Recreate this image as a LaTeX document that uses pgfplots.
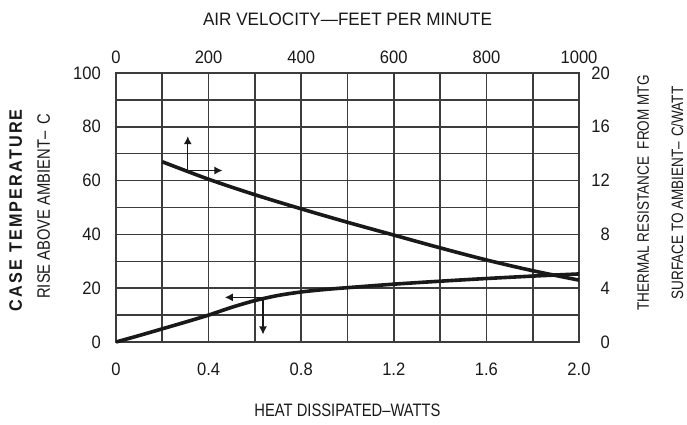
\documentclass[border=0pt]{standalone}
\usepackage{pgfplots}
\pgfplotsset{compat=1.18}
\usetikzlibrary{arrows.meta}
\usepackage{fontspec}
\setmainfont{Liberation Sans}[FakeStretch=0.82]
\newfontfamily\tickfont{Liberation Sans}[FakeStretch=0.92]
\newfontfamily\topfont{Liberation Sans}[FakeStretch=0.95]
\newfontfamily\boldlab{Liberation Sans}[FakeStretch=0.9, LetterSpace=12]
\definecolor{gridc}{RGB}{60,60,60}
\definecolor{inkc}{RGB}{25,25,25}
\begin{document}
\begin{tikzpicture}
\useasboundingbox (-116pt,-83pt) rectangle (571pt,342pt);
\pgfplotsset{
  base/.style={
    scale only axis, width=463pt, height=269pt,
    /pgf/number format/assume math mode=true,
    /pgf/number format/1000 sep={},
    tick style={draw=none},
    major tick length=0pt,
    tick label style={font=\tickfont\fontsize{18}{18}\selectfont, text=inkc, inner sep=0pt},
    label style={font=\fontsize{18}{18}\selectfont, text=inkc},
    clip=false,
  }
}
\begin{axis}[base,
  xmin=0, xmax=2, ymin=0, ymax=100,
  xtick={0,0.4,0.8,1.2,1.6,2.0}, xticklabels={0,0.4,0.8,1.2,1.6,2.0},
  minor xtick={0.2,0.6,1.0,1.4,1.8},
  ytick={0,20,40,60,80,100}, minor ytick={10,30,50,70,90},
  grid=both,
  major grid style={line width=1.6pt, color=gridc},
  minor grid style={line width=1.6pt, color=gridc},
  axis line style={line width=1.8pt, color=gridc},
  xticklabel style={anchor=center, yshift=-27pt},
  yticklabel style={anchor=east, xshift=-15pt},
  xlabel={HEAT DISSIPATED--WATTS},
  xlabel style={at={(axis description cs:0.5,-0.253)}, anchor=center},
  ylabel={RISE ABOVE AMBIENT--\hspace{0.4em}C},
  ylabel style={at={(axis description cs:-0.156,0.505)}, anchor=center, rotate=0},
]
\addplot[line width=3.6pt, inkc, smooth] coordinates {
(0,0) (0.1,2.4) (0.2,4.9) (0.3,7.4) (0.4,10) (0.5,12.9) (0.6,15.4) (0.7,17.3)
(0.8,18.6) (0.9,19.5) (1.0,20.2) (1.2,21.5) (1.4,22.6) (1.6,23.6) (1.8,24.5) (2.0,25.3)};
\addplot[line width=1.3pt, inkc, -{Latex[length=8pt,width=8pt]}] coordinates {(0.635,16.6) (0.47,16.6)};
\addplot[line width=1.3pt, inkc, -{Latex[length=8pt,width=8pt]}] coordinates {(0.635,16.6) (0.635,2.8)};
\node[rotate=90, anchor=center, text=inkc, font=\boldlab\bfseries\fontsize{18}{18}\selectfont]
  at (axis description cs:-0.2165,0.49) {CASE TEMPERATURE};
\end{axis}
\begin{axis}[base,
  xmin=0, xmax=1000, ymin=0, ymax=20,
  axis x line*=top, axis y line*=right,
  axis line style={draw=none},
  xtick={0,200,400,600,800,1000},
  ytick={0,4,8,12,16,20},
  xticklabel style={anchor=center, yshift=16pt},
  yticklabel style={anchor=east, xshift=31pt},
  xlabel={\topfont AIR VELOCITY—FEET PER MINUTE},
  xlabel style={at={(axis description cs:0.5,1.2)}, anchor=center},
]
\addplot[line width=3.6pt, inkc, smooth] coordinates {
(100,13.4) (200,12.1) (300,10.95) (400,9.9) (500,8.9) (600,7.95)
(700,7.0) (800,6.1) (900,5.3) (1000,4.6)};
\addplot[line width=1.3pt, inkc, -{Latex[length=8pt,width=8pt]}] coordinates {(155,12.75) (155,15.3)};
\addplot[line width=1.3pt, inkc, -{Latex[length=8pt,width=8pt]}] coordinates {(155,12.75) (230,12.75)};
\node[rotate=90, anchor=center, text=inkc, font=\fontsize{16.5}{16.5}\selectfont]
  at (axis description cs:1.1385,0.554) {THERMAL RESISTANCE\ \ FROM MTG};
\node[rotate=90, anchor=center, text=inkc, font=\fontsize{16.5}{16.5}\selectfont]
  at (axis description cs:1.212,0.554) {SURFACE TO AMBIENT--\hspace{0.3em}C/WATT};
\end{axis}
\end{tikzpicture}
\end{document}
